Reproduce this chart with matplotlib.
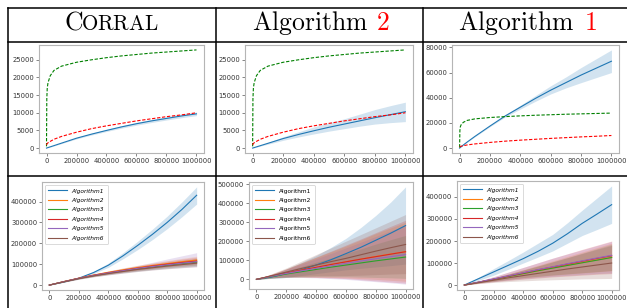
import matplotlib
matplotlib.use('Agg')
import matplotlib.pyplot as plt
import numpy as np

plt.rcParams['mathtext.fontset'] = 'cm'

W, H = 627, 308

# ---- top row data (cumulative regret) ----
x_top = [0, 2000, 5000, 10000, 25000, 50000, 100000, 200000, 300000, 400000,
         500000, 600000, 700000, 800000, 900000, 1000000]
# reference bounds (same in all three top panels)
green_bound = [500, 14000, 17000, 18500, 20500, 22000, 23200, 24300, 25000, 25600,
               26100, 26500, 26900, 27200, 27500, 27800]
red_bound = [900, 1100, 1300, 1500, 1900, 2500, 3300, 4500, 5500, 6300,
             7000, 7700, 8300, 8900, 9400, 10000]

corral_top = [0, 30, 70, 150, 350, 700, 1400, 2800, 3950, 5000,
              6000, 6900, 7700, 8400, 9100, 9700]
corral_top_lo = [0, 20, 50, 120, 300, 620, 1280, 2600, 3700, 4700,
                 5650, 6500, 7250, 7950, 8600, 9200]
corral_top_hi = [0, 40, 90, 180, 400, 780, 1520, 3000, 4200, 5300,
                 6350, 7300, 8150, 8850, 9600, 10200]

alg2_top = [0, 30, 70, 140, 340, 680, 1350, 2700, 3850, 4900,
            5900, 6800, 7700, 8600, 9450, 10300]
alg2_top_lo = [0, 20, 50, 110, 280, 560, 1100, 2200, 3150, 4000,
               4800, 5500, 6200, 6800, 7200, 7500]
alg2_top_hi = [0, 40, 90, 170, 400, 800, 1600, 3200, 4600, 6000,
               7200, 8300, 9600, 10900, 12000, 13000]

alg1_top = [0, 200, 500, 1000, 2500, 4800, 9200, 17500, 25500, 32500,
            39500, 46000, 52000, 58000, 63500, 69000]
alg1_top_lo = [0, 190, 480, 950, 2400, 4600, 8900, 17000, 24700, 31000,
               37200, 43000, 47800, 52000, 56000, 60000]
alg1_top_hi = [0, 210, 520, 1050, 2600, 5000, 9500, 18000, 26300, 34000,
               41800, 49500, 56500, 64000, 71000, 78000]

# ---- bottom row data ----
x_bot = [0, 100000, 200000, 300000, 400000, 500000, 600000, 700000, 800000, 900000, 1000000]
labels = ['Algorithm1', 'Algorithm2', 'Algorithm3', 'Algorithm4', 'Algorithm5', 'Algorithm6']
colors = ['tab:blue', 'tab:orange', 'tab:green', 'tab:red', 'tab:purple', 'tab:brown']

corral_bot = [
    [0, 15000, 33000, 60000, 95000, 140000, 190000, 243000, 300000, 362000, 430000],
    [0, 17000, 33000, 48000, 61000, 73000, 84000, 94000, 103000, 112000, 120000],
    [0, 16500, 32000, 45000, 57000, 68000, 78000, 87000, 95000, 103000, 110000],
    [0, 17000, 33000, 47000, 59000, 70000, 81000, 91000, 100000, 108000, 115000],
    [0, 16500, 32000, 46000, 58000, 69000, 80000, 89000, 97000, 105000, 112000],
    [0, 16000, 31000, 44000, 55000, 65000, 75000, 83000, 91000, 98000, 105000],
]
corral_bot_lo = [
    [0, 14000, 30000, 55000, 85000, 126000, 170000, 218000, 270000, 327000, 388000],
    [0, 15500, 30000, 43000, 54000, 64000, 73000, 81000, 89000, 96000, 102000],
    [0, 15000, 29000, 41000, 51000, 60000, 68000, 75000, 82000, 88000, 93000],
    [0, 15500, 30000, 42000, 52000, 62000, 70000, 78000, 86000, 92000, 97000],
    [0, 14500, 28000, 39500, 49000, 58000, 66000, 73000, 79000, 84000, 88000],
    [0, 14500, 28000, 39500, 49000, 57000, 65000, 72000, 78000, 83000, 88000],
]
corral_bot_hi = [
    [0, 16000, 36000, 66000, 105000, 155000, 210000, 268000, 330000, 398000, 470000],
    [0, 18500, 36000, 53000, 68000, 82000, 95000, 106000, 117000, 128000, 138000],
    [0, 18000, 35000, 49500, 63000, 76000, 88000, 98000, 108000, 118000, 127000],
    [0, 18500, 36000, 51500, 66000, 79000, 92000, 103000, 114000, 124000, 133000],
    [0, 18500, 36000, 52000, 67000, 81000, 94000, 109000, 125000, 140000, 155000],
    [0, 17500, 34000, 48000, 61000, 73000, 85000, 95000, 104000, 113000, 122000],
]

alg2_bot = [
    [0, 12000, 30000, 50000, 75000, 103000, 135000, 168000, 205000, 242000, 282000],
    [0, 17000, 33000, 48000, 63000, 78000, 92000, 106000, 120000, 133000, 145000],
    [0, 14000, 28000, 40000, 52000, 64000, 75000, 86000, 97000, 107000, 117000],
    [0, 17000, 33000, 48000, 63000, 78000, 92000, 106000, 119000, 132000, 145000],
    [0, 16000, 31000, 45000, 58000, 71000, 84000, 96000, 108000, 119000, 130000],
    [0, 19000, 38000, 57000, 75000, 93000, 110000, 129000, 148000, 166000, 183000],
]
alg2_bot_lo = [
    [0, 5000, 10000, 20000, 30000, 40000, 50000, 58000, 65000, 72000, 80000],
    [0, 8000, 12000, 13000, 12000, 10000, 8000, 4000, 0, -5000, -10000],
    [0, 6000, 10000, 12000, 14000, 14000, 14000, 12000, 10000, 8000, 5000],
    [0, 8000, 12000, 12000, 10000, 7000, 4000, -2000, -8000, -14000, -20000],
    [0, 7000, 10000, 10000, 8000, 4000, 0, -6000, -12000, -18000, -25000],
    [0, 8000, 14000, 17000, 20000, 20000, 20000, 22000, 25000, 28000, 30000],
]
alg2_bot_hi = [
    [0, 22000, 55000, 88000, 125000, 168000, 215000, 272000, 335000, 405000, 485000],
    [0, 27000, 55000, 85000, 115000, 145000, 175000, 207000, 240000, 270000, 300000],
    [0, 22000, 45000, 67000, 90000, 112000, 135000, 160000, 185000, 208000, 230000],
    [0, 27000, 55000, 86000, 117000, 148000, 180000, 212000, 245000, 278000, 310000],
    [0, 26000, 52000, 80000, 108000, 136000, 165000, 195000, 225000, 255000, 285000],
    [0, 29000, 60000, 95000, 130000, 165000, 200000, 235000, 270000, 305000, 340000],
]

alg1_bot = [
    [0, 30000, 60000, 90000, 120000, 153000, 190000, 233000, 280000, 322000, 365000],
    [0, 13000, 26000, 39000, 52000, 65000, 78000, 90000, 102000, 114000, 126000],
    [0, 13000, 26000, 39000, 52000, 65000, 77000, 89000, 101000, 113000, 125000],
    [0, 13500, 27000, 41000, 55000, 69000, 82000, 95000, 108000, 121000, 133000],
    [0, 14000, 28000, 42000, 56000, 70000, 83000, 97000, 110000, 123000, 135000],
    [0, 11000, 22000, 33000, 43000, 53000, 63000, 73000, 82000, 91000, 100000],
]
alg1_bot_lo = [
    [0, 22000, 45000, 72000, 100000, 127000, 155000, 190000, 225000, 252000, 280000],
    [0, 10000, 18000, 26000, 33000, 39000, 45000, 50000, 55000, 60000, 65000],
    [0, 10000, 18000, 26000, 34000, 40000, 46000, 51000, 56000, 61000, 66000],
    [0, 8000, 15000, 21000, 27000, 32000, 37000, 41000, 45000, 49000, 52000],
    [0, 8500, 16000, 23000, 29000, 35000, 40000, 44000, 48000, 52000, 55000],
    [0, 7000, 12000, 16000, 19000, 22000, 24000, 26000, 28000, 29000, 30000],
]
alg1_bot_hi = [
    [0, 37000, 75000, 112000, 150000, 190000, 230000, 283000, 340000, 395000, 450000],
    [0, 16000, 33000, 51000, 70000, 90000, 110000, 130000, 150000, 170000, 190000],
    [0, 16000, 33000, 50000, 68000, 87000, 106000, 125000, 145000, 165000, 185000],
    [0, 18500, 38000, 59000, 80000, 101000, 122000, 142000, 162000, 181000, 200000],
    [0, 18500, 38000, 59000, 80000, 101000, 122000, 141000, 160000, 179000, 198000],
    [0, 15500, 32000, 50000, 68000, 86000, 105000, 124000, 143000, 162000, 180000],
]

xticks = [0, 200000, 400000, 600000, 800000, 1000000]

fig = plt.figure(figsize=(W / 100, H / 100), dpi=100)
fig.patch.set_facecolor('white')


def px_axes(l, t, r, b):
    return fig.add_axes([l / W, 1 - b / H, (r - l) / W, (b - t) / H])


def style(ax):
    for s in ax.spines.values():
        s.set_color('#b5b5b5')
        s.set_linewidth(0.8)
    ax.tick_params(labelsize=4.9, length=2, width=0.5, pad=1.5,
                   colors='#555555', labelcolor='#333333')
    ax.set_xticks(xticks)
    ax.ticklabel_format(style='plain', useOffset=False)


def top_panel(ax, mean, lo, hi):
    ax.fill_between(x_top, lo, hi, color='tab:blue', alpha=0.2, lw=0)
    ax.plot(x_top, mean, color='tab:blue', lw=0.8)
    ax.plot(x_top, green_bound, 'g--', lw=0.8, dashes=(3, 1.5))
    ax.plot(x_top, red_bound, 'r--', lw=0.8, dashes=(3, 1.5))
    style(ax)


def bot_panel(ax, means, los, his, italic):
    for m, lo, hi, c, lab in zip(means, los, his, colors, labels):
        ax.fill_between(x_bot, lo, hi, color=c, alpha=0.2, lw=0)
        ax.plot(x_bot, m, color=c, lw=0.8, label=lab)
    style(ax)
    leg = ax.legend(loc='upper left', handlelength=3.2,
                    labelspacing=0.75, borderpad=0.6, framealpha=1,
                    prop={'size': 4.2, 'style': 'italic' if italic else 'normal'})
    leg.get_frame().set_edgecolor('#cccccc')
    leg.get_frame().set_linewidth(0.5)


ax = px_axes(39, 45, 204, 153)
top_panel(ax, corral_top, corral_top_lo, corral_top_hi)
ax = px_axes(245, 45, 413, 153)
top_panel(ax, alg2_top, alg2_top_lo, alg2_top_hi)
ax = px_axes(452, 45, 619, 153)
top_panel(ax, alg1_top, alg1_top_lo, alg1_top_hi)

ax = px_axes(42, 182, 204, 290)
bot_panel(ax, corral_bot, corral_bot_lo, corral_bot_hi, True)
ax = px_axes(249, 182, 413, 289)
bot_panel(ax, alg2_bot, alg2_bot_lo, alg2_bot_hi, False)
ax = px_axes(457, 181, 619, 290)
bot_panel(ax, alg1_bot, alg1_bot_lo, alg1_bot_hi, True)


# table lines
def hline(y, x0, x1):
    fig.add_artist(plt.Line2D([x0 / W, x1 / W], [1 - y / H, 1 - y / H], color='black', lw=1.1))


def vline(x, y0, y1):
    fig.add_artist(plt.Line2D([x / W, x / W], [1 - y0 / H, 1 - y1 / H], color='black', lw=1.1))


hline(8, 7.5, W)
hline(41.5, 7.5, W)
hline(176, 7.5, W)
for xv in [8, 216, 423]:
    vline(xv, 7.5, H)

# headers
yb = 1 - 30 / H
fig.text(64 / W, yb, r'$\mathrm{C}$', fontsize=18.5, ha='left', va='baseline')
fig.text(81 / W, yb, r'$\mathrm{ORRAL}$', fontsize=15.2, ha='left', va='baseline')
fig.text(368 / W, yb, r'$\mathrm{Algorithm}$', fontsize=18.5, ha='right', va='baseline')
fig.text(376 / W, yb, r'$\mathrm{2}$', fontsize=18.5, ha='left', va='baseline', color='red')
fig.text(574 / W, yb, r'$\mathrm{Algorithm}$', fontsize=18.5, ha='right', va='baseline')
fig.text(584 / W, yb, r'$\mathrm{1}$', fontsize=18.5, ha='left', va='baseline', color='red')

fig.savefig('out.png', dpi=100)
